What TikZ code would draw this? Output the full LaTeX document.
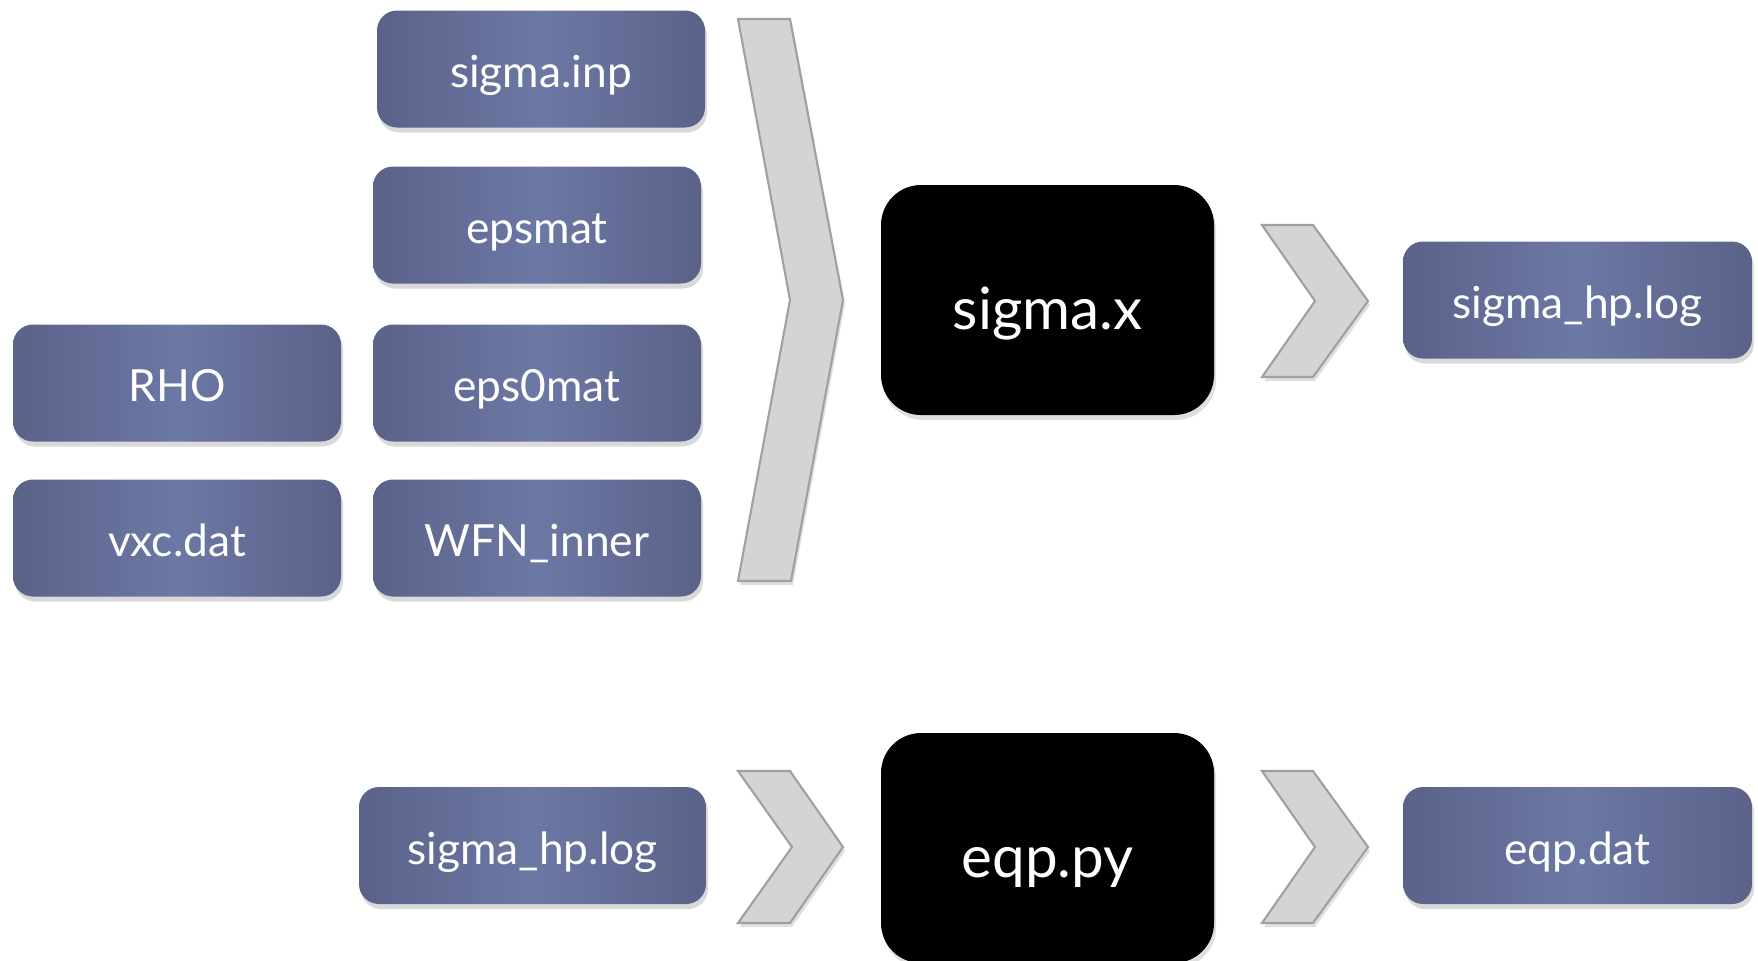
\documentclass[tikz,border=0pt]{standalone}
\usepackage{fontspec}
\setmainfont{Lato}
\usetikzlibrary{shadows}
\definecolor{boxdark}{RGB}{90,98,136}
\definecolor{boxlight}{RGB}{108,120,165}
\definecolor{chevfill}{RGB}{212,212,212}
\definecolor{chevedge}{RGB}{160,160,160}
\tikzset{
  filebox/.style={rectangle, rounded corners=0.2cm, minimum height=1.17cm, left color=boxdark, right color=boxdark, middle color=boxlight, text=white, text height=10.6pt, text depth=0pt, font=\fontsize{12.6}{15}\selectfont, drop shadow={shadow xshift=0.02cm, shadow yshift=-0.05cm, opacity=0.3}},
  progbox/.style={rectangle, rounded corners=0.4cm, fill=black, text=white, minimum width=3.33cm, minimum height=2.3cm, text height=17pt, text depth=0pt, font=\fontsize{16.6}{20}\selectfont, drop shadow={shadow xshift=0.02cm, shadow yshift=-0.05cm, opacity=0.25}},
  chev/.style={fill=chevfill, draw=chevedge, line width=0.6pt, line join=miter, drop shadow={shadow xshift=0.02cm, shadow yshift=-0.04cm, opacity=0.25}}
}

\begin{document}
\begin{tikzpicture}
    \useasboundingbox (0,0) rectangle (17.58,-9.6);

    % inputs of sigma.x
    \node[filebox, minimum width=3.28cm] (sigmainp) at (5.41,-0.69) {sigma.inp};
    \node[filebox, minimum width=3.28cm] (epsmat) at (5.37,-2.25) {epsmat};
    \node[filebox, minimum width=3.28cm] (rho) at (1.77,-3.83) {RHO};
    \node[filebox, minimum width=3.28cm] (epszeromat) at (5.37,-3.83) {eps0mat};
    \node[filebox, minimum width=3.28cm] (vxc) at (1.77,-5.38) {vxc.dat};
    \node[filebox, minimum width=3.28cm] (wfninner) at (5.37,-5.38) {WFN\_inner};

    \draw[chev] (7.38,-0.19) -- (7.90,-0.19) -- (8.43,-3.00) -- (7.91,-5.81) -- (7.38,-5.81) -- (7.90,-3.00) -- cycle;

    \node[progbox] (sigmax) at (10.475,-3.00) {sigma.x};
    \draw[chev] (12.62,-2.25) -- (13.13,-2.25) -- (13.68,-3.01) -- (13.13,-3.77) -- (12.62,-3.77) -- (13.15,-3.01) -- cycle;
    \node[filebox, minimum width=3.49cm] (sigmalog) at (15.775,-3.00) {sigma\_hp.log};

    % eqp.py step
    \node[filebox, minimum width=3.47cm] (sigmalogb) at (5.325,-8.455) {sigma\_hp.log};
    \draw[chev] (7.38,-7.71) -- (7.90,-7.71) -- (8.43,-8.47) -- (7.90,-9.23) -- (7.38,-9.23) -- (7.92,-8.47) -- cycle;
    \node[progbox] (eqppy) at (10.475,-8.48) {eqp.py};
    \draw[chev] (12.62,-7.71) -- (13.13,-7.71) -- (13.68,-8.47) -- (13.13,-9.23) -- (12.62,-9.23) -- (13.15,-8.47) -- cycle;
    \node[filebox, minimum width=3.49cm] (eqpdat) at (15.775,-8.455) {eqp.dat};
\end{tikzpicture}
\end{document}
